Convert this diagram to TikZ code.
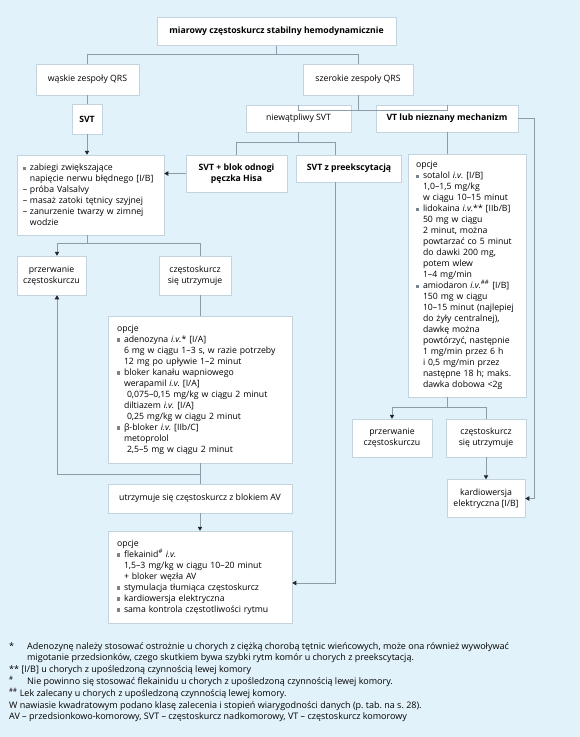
\documentclass[tikz,border=0pt]{standalone}
\usepackage{fontspec}
\setmainfont{Open Sans}
\usetikzlibrary{positioning, arrows.meta}
\definecolor{bg}{RGB}{226,242,250}
\definecolor{edge}{RGB}{140,156,168}
\definecolor{frame}{RGB}{196,212,222}
\definecolor{sq}{RGB}{120,132,142}
\newcommand{\bul}{\makebox[7pt][l]{\textcolor{sq}{\rule[0.5pt]{3.2pt}{3.2pt}}}}
\newcommand{\ind}{\hspace*{7pt}}
\newcommand{\dsh}{\makebox[7pt][l]{–}}
\frenchspacing

\begin{document}
\begin{tikzpicture}[x=1pt, y=-1pt,
	box/.style={draw=frame, fill=white, line width=0.5pt, inner sep=0pt, align=center, font=\fontsize{8.7}{11}\selectfont},
	bbox/.style={box, font=\fontsize{8.7}{11}\selectfont\bfseries},
	opts/.style={box, align=left, inner xsep=8pt},
	link/.style={draw=edge, line width=0.6pt},
	arr/.style={link, -{Triangle[length=4pt, width=4.4pt, color=black!85]}}]

	\useasboundingbox[fill=bg] (0,0) rectangle (580,737);

	\node[bbox, minimum width=239pt, minimum height=28.5pt] (top) at (276.5,31) {miarowy częstoskurcz stabilny hemodynamicznie};
	\node[box, minimum width=103pt, minimum height=31pt] (narrow) at (87.5,79.5) {wąskie zespoły QRS};
	\node[box, minimum width=110pt, minimum height=31pt] (wide) at (358,79.5) {szerokie zespoły QRS};
	\node[bbox, minimum width=30pt, minimum height=30pt] (svt) at (87,119) {SVT};
	\node[box, minimum width=105pt, minimum height=27pt] (certain) at (298.5,118.5) {niewątpliwy SVT};
	\node[bbox, minimum width=142pt, minimum height=27pt] (vt) at (447,118.5) {VT lub nieznany mechanizm};
	\node[opts, inner xsep=6pt, text width=135pt, minimum height=80pt] (vagal) at (90.5,195) {\bul zabiegi zwiększające\\
		\ind napięcie nerwu błędnego [I/B]\\
		\dsh próba Valsalvy\\
		\dsh masaż zatoki tętnicy szyjnej\\
		\dsh zanurzenie twarzy w zimnej\\
		\ind wodzie};
	\node[bbox, minimum width=101pt, minimum height=37pt] (branch) at (236.5,173.5) {SVT + blok odnogi\\pęczka Hisa};
	\node[bbox, minimum width=105pt, minimum height=27pt, right=9pt of branch.north east, anchor=north west] (preex) {SVT z preekscytacją};
	\node[opts, text width=102pt, minimum height=243pt] (vtopt) at (467,275.5) {opcje\\
		\bul sotalol \textit{i.v.} [I/B]\\
		\ind 1,0–1,5 mg/kg\\
		\ind w ciągu 10–15 minut\\
		\bul lidokaina \textit{i.v.}** [IIb/B]\\
		\ind 50 mg w ciągu\\
		\ind 2 minut, można\\
		\ind powtarzać co 5 minut\\
		\ind do dawki 200 mg,\\
		\ind potem wlew\\
		\ind 1–4 mg/min\\
		\bul amiodaron \textit{i.v.}\textsuperscript{\#\#} [I/B]\\
		\ind 150 mg w ciągu\\
		\ind 10–15 minut (najlepiej\\
		\ind do żyły centralnej),\\
		\ind dawkę można\\
		\ind powtórzyć, następnie\\
		\ind 1 mg/min przez 6 h\\
		\ind i 0,5 mg/min przez\\
		\ind następne 18 h; maks.\\
		\ind dawka dobowa <2g};
	\node[box, minimum width=69pt, minimum height=39pt] (lstop) at (51.5,275.5) {przerwanie\\częstoskurczu};
	\node[box, minimum width=72pt, minimum height=39pt] (lcont) at (195,275.5) {częstoskurcz\\się utrzymuje};
	\node[opts, text width=166pt, inner xsep=9pt, minimum height=147pt] (lopt) at (200,389.5) {opcje\\
		\bul adenozyna \textit{i.v.}* [I/A]\\
		\ind 6 mg w ciągu 1–3 s, w razie potrzeby\\
		\ind 12 mg po upływie 1–2 minut\\
		\bul bloker kanału wapniowego\\
		\ind werapamil \textit{i.v.} [I/A]\\
		\ind\hspace*{3pt}0,075–0,15 mg/kg w ciągu 2 minut\\
		\ind diltiazem \textit{i.v.} [I/A]\\
		\ind\hspace*{3pt}0,25 mg/kg w ciągu 2 minut\\
		\bul β-bloker \textit{i.v.} [IIb/C]\\
		\ind metoprolol\\
		\ind\hspace*{3pt}2,5–5 mg w ciągu 2 minut};
	\node[box, minimum width=184pt, minimum height=29pt] (avbox) at (200,498.5) {utrzymuje się częstoskurcz z blokiem AV};
	\node[opts, text width=166pt, inner xsep=9pt, minimum height=92pt] (flek) at (200,577) {opcje\\
		\bul flekainid\textsuperscript{\#} \textit{i.v.}\\
		\ind 1,5–3 mg/kg w ciągu 10–20 minut\\
		\ind + bloker węzła AV\\
		\bul stymulacja tłumiąca częstoskurcz\\
		\bul kardiowersja elektryczna\\
		\bul sama kontrola częstotliwości rytmu};
	\node[box, minimum width=80pt, minimum height=38pt] (rstop) at (392,438) {przerwanie\\częstoskurczu};
	\node[box, minimum width=80pt, minimum height=38pt] (rcont) at (486,438) {częstoskurcz\\się utrzymuje};
	\node[box, minimum width=78pt, minimum height=38pt, below=22pt of rcont] (cardio) {kardiowersja\\elektryczna [I/B]};

	\node[anchor=north west, inner sep=0pt, align=left, font=\fontsize{9}{11.8}\selectfont] (notes) at (9,642) {%
		\makebox[18pt][l]{*}Adenozynę należy stosować ostrożnie u chorych z ciężką chorobą tętnic wieńcowych, może ona również wywoływać\\
		\hspace*{18pt}migotanie przedsionków, czego skutkiem bywa szybki rytm komór u chorych z preekscytacją.\\
		** [I/B] u chorych z upośledzoną czynnością lewej komory\\
		\makebox[18pt][l]{\textsuperscript{\#}}Nie powinno się stosować flekainidu u chorych z upośledzoną czynnością lewej komory.\\
		\textsuperscript{\#\#} Lek zalecany u chorych z upośledzoną czynnością lewej komory.\\
		W nawiasie kwadratowym podano klasę zalecenia i stopień wiarygodności danych (p. tab. na s. 28).\\
		AV – przedsionkowo-komorowy, SVT – częstoskurcz nadkomorowy, VT – częstoskurcz komorowy};

	\draw[link] (top.south) -- ++(0,9) -| (narrow.north);
	\draw[link] (top.south) -- ++(0,9) -| (wide.north);
	\draw[link] (narrow.south) -- (narrow.south |- svt.north);
	\draw[arr] (svt.south) -- (svt.south |- vagal.north);
	\draw[link] (wide.south) -- ++(0,15) -| (certain.north);
	\draw[link] (wide.south) -- ++(0,15) -| (vt.north);
	\draw[link] (certain.south) -- ++(0,10) -| (branch.north);
	\draw[link] (certain.south) -- ++(0,10) -| ([xshift=-13.5pt]preex.north);
	\draw[arr] (branch.west) -- (branch.west -| vagal.east);
	\draw[link] (vt.south) -- (vt.south |- vtopt.north);
	\draw[arr] (vt.east) -- ++(16,0) |- (cardio.east);
	\draw[arr] (vt.south |- vtopt.south) -- ++(0,10) -| (rstop.north);
	\draw[link] (vt.south |- vtopt.south) -- ++(0,10) -| (rcont.north);
	\draw[arr] (rcont.south) -- (cardio.north);
	\draw[arr] (svt.south |- vagal.south) -- ++(0,8) -| ([xshift=5.5pt]lstop.north);
	\draw[link] (svt.south |- vagal.south) -- ++(0,8) -| (lopt.north |- lcont.north);
	\draw[link] (lopt.north |- lcont.south) -- (lopt.north);
	\draw[link] (lopt.south) -- (avbox.north);
	\draw[arr] (lopt.south) -- ++(0,11) -| ([xshift=5.5pt]lstop.south);
	\draw[arr] (avbox.south) -- (flek.north);
	\draw[arr] ([xshift=-13.5pt]preex.south) |- ([yshift=-6pt]flek.east);

\end{tikzpicture}
\end{document}
